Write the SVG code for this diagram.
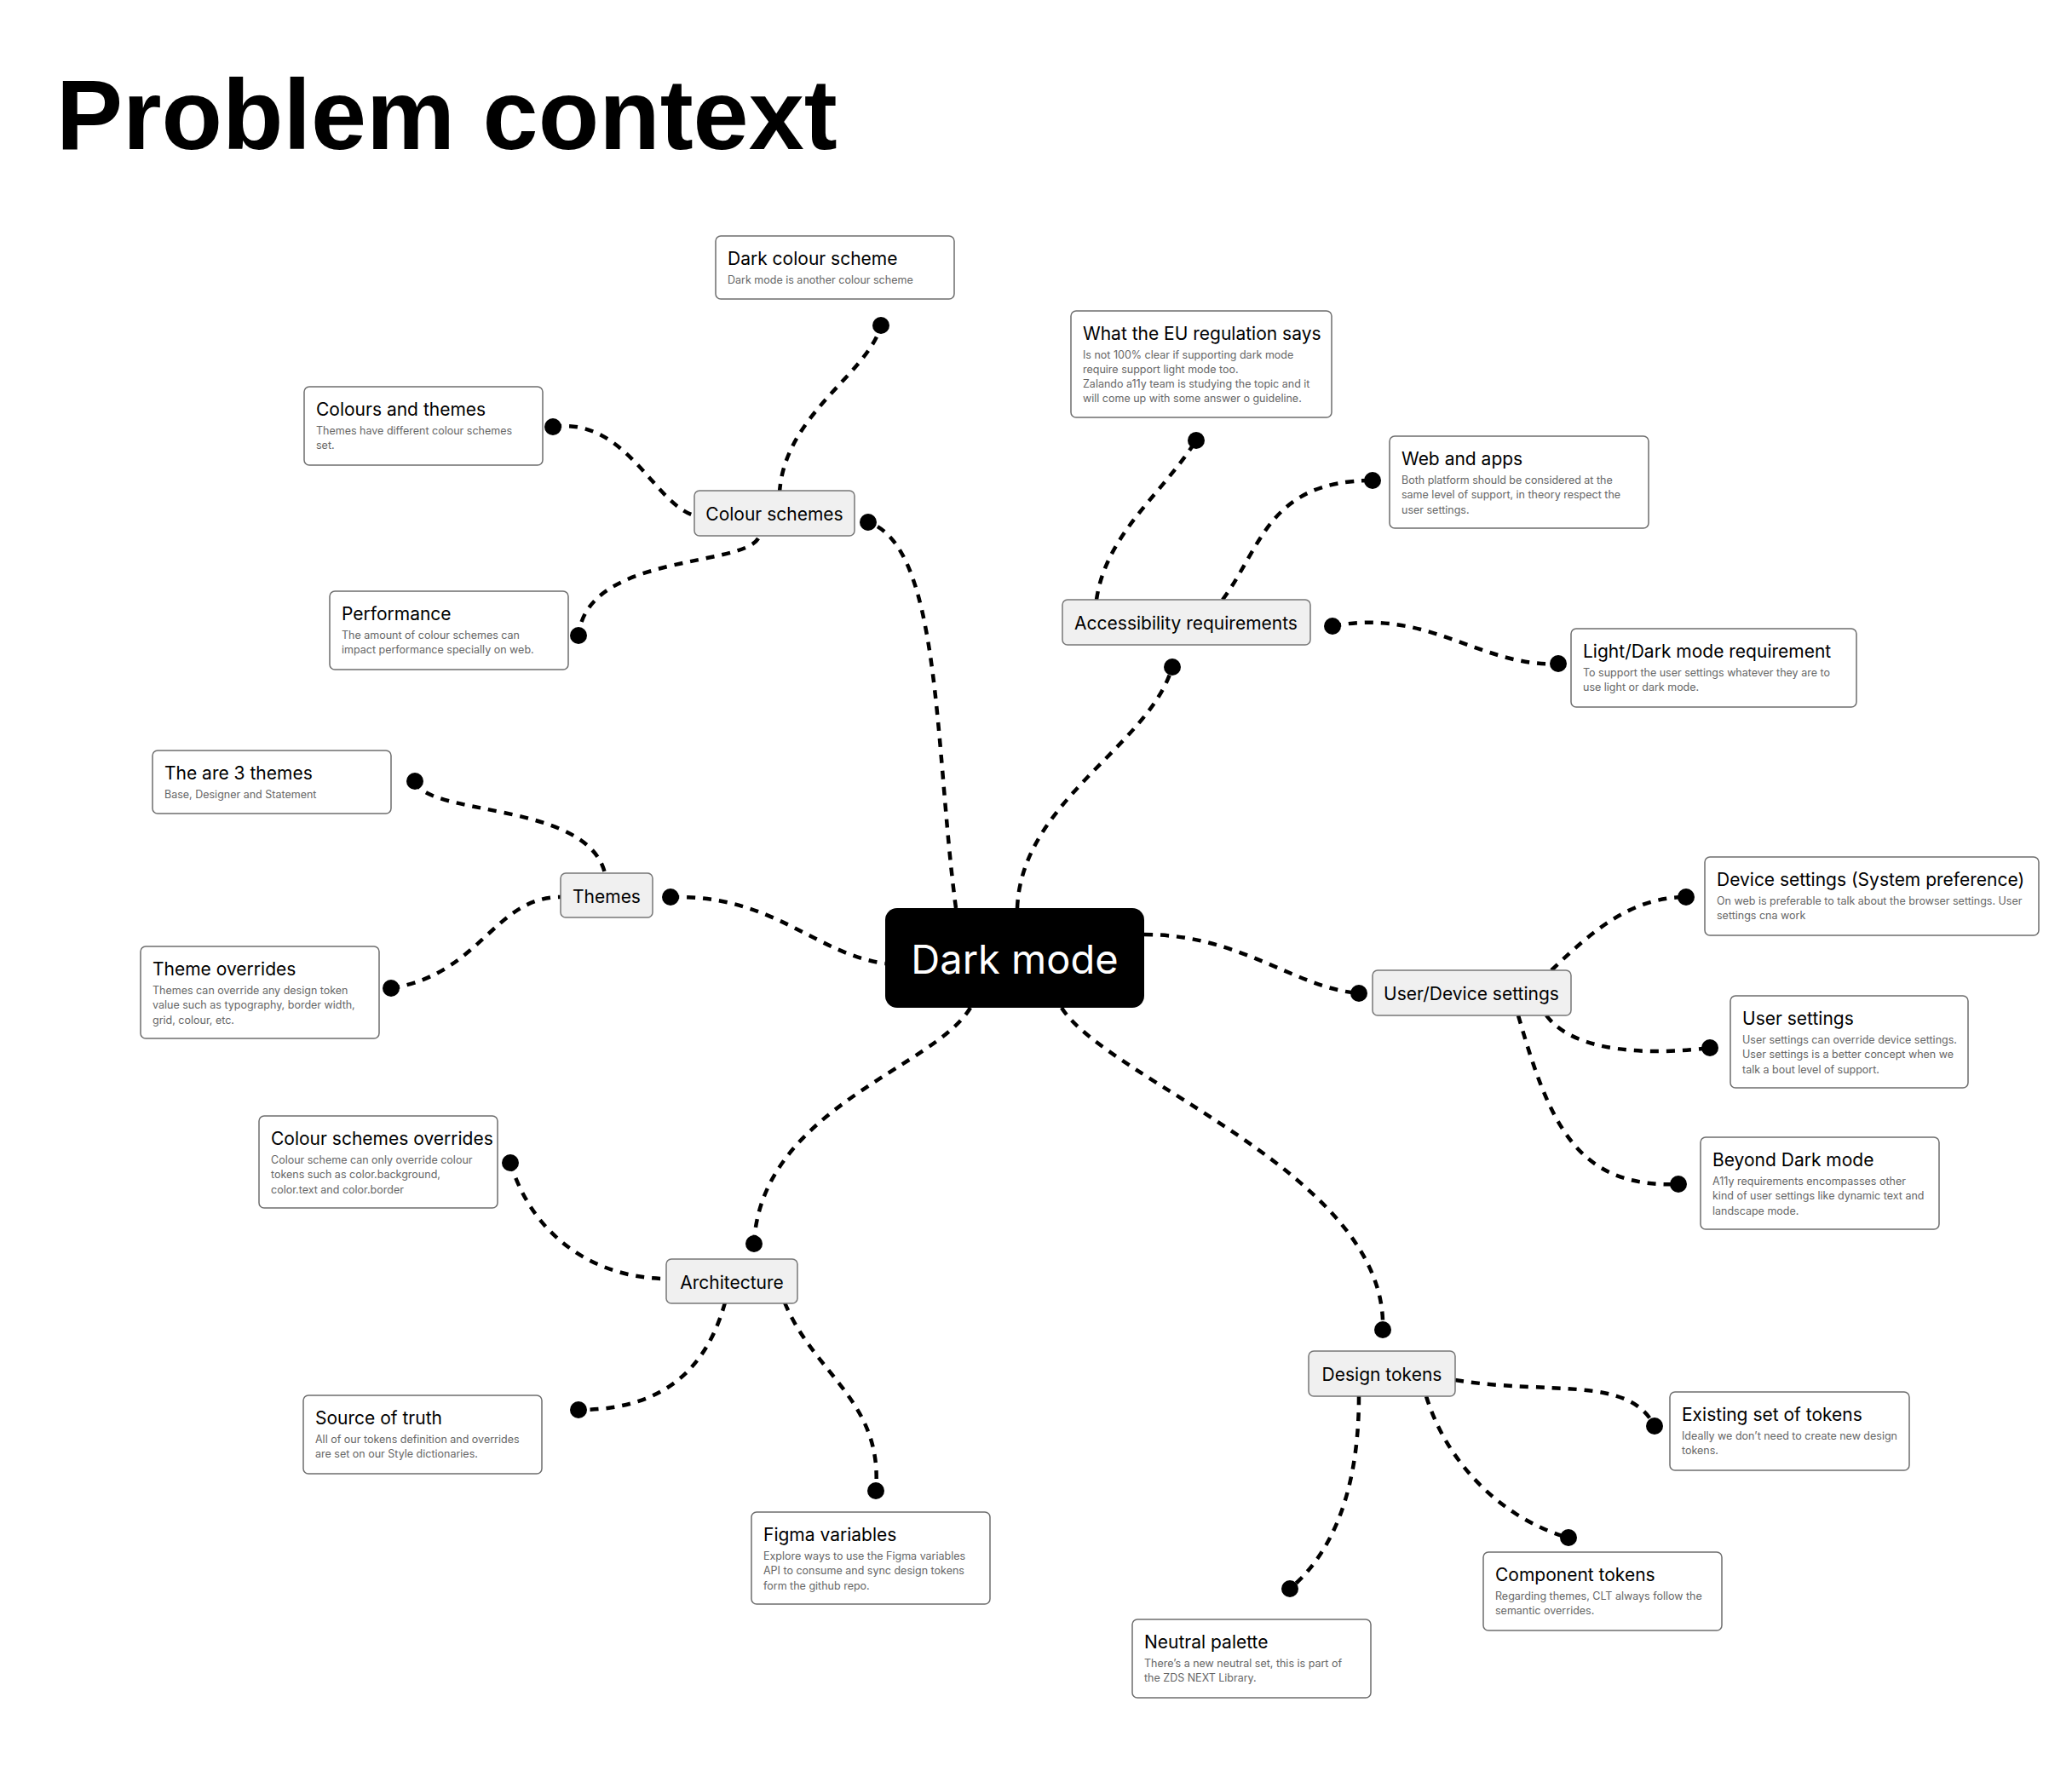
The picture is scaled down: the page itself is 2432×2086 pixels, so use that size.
<svg xmlns="http://www.w3.org/2000/svg" width="2432" height="2086" viewBox="0 0 2432 2086">
<defs>
<style>
.bg{fill:#ffffff}
.title{font-family:"Liberation Sans",Arial,sans-serif;font-weight:700;font-size:117px;fill:#000}
.card{fill:#ffffff;stroke:#6e6e6e;stroke-width:1.5}
.hub{fill:#f0f0f0;stroke:#777777;stroke-width:1.5}
.ct{font-family:Inter,"Noto Sans",sans-serif;font-size:21px;fill:#000}
.cs{font-family:Inter,"Noto Sans",sans-serif;font-size:12.5px;fill:#666666}
.ht{font-family:Inter,"Noto Sans",sans-serif;font-size:21px;fill:#000;text-anchor:middle;dominant-baseline:central}
.main{fill:#000}
.mt{font-family:Inter,"Noto Sans",sans-serif;font-size:47px;fill:#fff;text-anchor:middle;dominant-baseline:central}
.ln{fill:none;stroke:#000;stroke-width:4.5;stroke-dasharray:10 9}
.dot{fill:#000}
</style>
</defs>
<rect class="bg" x="0" y="0" width="2432" height="2086"/>
<text class="title" x="66" y="175">Problem context</text>

<g id="connectors">
<path class="ln" d="M915,578 C921,486 1019,439 1034,382"/>
<path class="ln" d="M649,501 C737,489 768,595 818,606"/>
<path class="ln" d="M890,632 C870,666 689,650 679,746"/>
<path class="ln" d="M1122,1066 C1097,878 1105,642 1019,613"/>
<path class="ln" d="M1287,704 C1298,627 1364,580 1404,517"/>
<path class="ln" d="M1435,704 C1481,642 1489,564 1611,564"/>
<path class="ln" d="M1564,735 C1677,713 1739,784 1829,779"/>
<path class="ln" d="M1194,1066 C1199,940 1348,877 1376,783"/>
<path class="ln" d="M487,917 C501,959 689,940 710,1025"/>
<path class="ln" d="M459,1160 C564,1144 580,1053 658,1053"/>
<path class="ln" d="M787,1053 C909,1050 956,1120 1039,1131"/>
<path class="ln" d="M1343,1097 C1457,1097 1520,1160 1595,1166"/>
<path class="ln" d="M1821,1139 C1865,1097 1912,1053 1979,1053"/>
<path class="ln" d="M1815,1192 C1849,1238 1943,1238 2007,1230"/>
<path class="ln" d="M1782,1192 C1818,1316 1849,1395 1970,1390"/>
<path class="ln" d="M1139,1183 C1097,1254 893,1301 885,1460"/>
<path class="ln" d="M599,1365 C627,1457 705,1501 782,1501"/>
<path class="ln" d="M851,1529 C823,1630 752,1655 679,1655"/>
<path class="ln" d="M921,1529 C956,1614 1037,1645 1028,1750"/>
<path class="ln" d="M1246,1183 C1301,1269 1630,1379 1623,1561"/>
<path class="ln" d="M1708,1620 C1818,1638 1912,1614 1942,1674"/>
<path class="ln" d="M1674,1639 C1700,1724 1771,1786 1841,1805"/>
<path class="ln" d="M1595,1639 C1595,1771 1551,1834 1514,1865"/>
<circle class="dot" cx="1034" cy="382" r="10"/>
<circle class="dot" cx="649" cy="501" r="10"/>
<circle class="dot" cx="1019" cy="613" r="10"/>
<circle class="dot" cx="679" cy="746" r="10"/>
<circle class="dot" cx="1404" cy="517" r="10"/>
<circle class="dot" cx="1611" cy="564" r="10"/>
<circle class="dot" cx="1829" cy="779" r="10"/>
<circle class="dot" cx="1564" cy="735" r="10"/>
<circle class="dot" cx="1376" cy="783" r="10"/>
<circle class="dot" cx="487" cy="917" r="10"/>
<circle class="dot" cx="459" cy="1160" r="10"/>
<circle class="dot" cx="787" cy="1053" r="10"/>
<circle class="dot" cx="1595" cy="1166" r="10"/>
<circle class="dot" cx="1979" cy="1053" r="10"/>
<circle class="dot" cx="2007" cy="1230" r="10"/>
<circle class="dot" cx="1970" cy="1390" r="10"/>
<circle class="dot" cx="885" cy="1460" r="10"/>
<circle class="dot" cx="599" cy="1365" r="10"/>
<circle class="dot" cx="679" cy="1655" r="10"/>
<circle class="dot" cx="1028" cy="1750" r="10"/>
<circle class="dot" cx="1623" cy="1561" r="10"/>
<circle class="dot" cx="1942" cy="1674" r="10"/>
<circle class="dot" cx="1841" cy="1805" r="10"/>
<circle class="dot" cx="1514" cy="1865" r="10"/>
</g>

<g id="dark-mode">
<rect class="main" x="1039" y="1066" width="304" height="117" rx="14"/>
<text class="mt" x="1191" y="1125">Dark mode</text>
</g>

<g id="hub-colour-schemes"><rect class="hub" x="815" y="576" width="188" height="53" rx="6"/><text class="ht" x="909" y="603">Colour schemes</text></g>
<g id="hub-accessibility"><rect class="hub" x="1247" y="704" width="291" height="53" rx="6"/><text class="ht" x="1392" y="731">Accessibility requirements</text></g>
<g id="hub-themes"><rect class="hub" x="658" y="1025" width="108" height="52" rx="6"/><text class="ht" x="712" y="1052">Themes</text></g>
<g id="hub-user-device"><rect class="hub" x="1611" y="1139" width="233" height="53" rx="6"/><text class="ht" x="1727" y="1166">User/Device settings</text></g>
<g id="hub-architecture"><rect class="hub" x="782" y="1478" width="154" height="52" rx="6"/><text class="ht" x="859" y="1505">Architecture</text></g>
<g id="hub-design-tokens"><rect class="hub" x="1536" y="1586" width="172" height="53" rx="6"/><text class="ht" x="1622" y="1613">Design tokens</text></g>

<g id="card-dark-colour-scheme"><rect class="card" x="840" y="277" width="280" height="74" rx="6"/><text class="ct" x="854" y="311">Dark colour scheme</text><text class="cs" x="854" y="333">Dark mode is another colour scheme</text></g>
<g id="card-colours-themes"><rect class="card" x="357" y="454" width="280" height="92" rx="6"/><text class="ct" x="371" y="488">Colours and themes</text><text class="cs" x="371" y="510">Themes have different colour schemes</text><text class="cs" x="371" y="527">set.</text></g>
<g id="card-performance"><rect class="card" x="387" y="694" width="280" height="92" rx="6"/><text class="ct" x="401" y="728">Performance</text><text class="cs" x="401" y="750">The amount of colour schemes can</text><text class="cs" x="401" y="767">impact performance specially on web.</text></g>
<g id="card-eu"><rect class="card" x="1257" y="365" width="306" height="125" rx="6"/><text class="ct" x="1271" y="399">What the EU regulation says</text><text class="cs" x="1271" y="421">Is not 100% clear if supporting dark mode</text><text class="cs" x="1271" y="438">require support light mode too.</text><text class="cs" x="1271" y="455">Zalando a11y team is studying the topic and it</text><text class="cs" x="1271" y="472">will come up with some answer o guideline.</text></g>
<g id="card-web-apps"><rect class="card" x="1631" y="512" width="304" height="108" rx="6"/><text class="ct" x="1645" y="546">Web and apps</text><text class="cs" x="1645" y="568">Both platform should be considered at the</text><text class="cs" x="1645" y="585">same level of support, in theory respect the</text><text class="cs" x="1645" y="603">user settings.</text></g>
<g id="card-light-dark"><rect class="card" x="1844" y="738" width="335" height="92" rx="6"/><text class="ct" x="1858" y="772">Light/Dark mode requirement</text><text class="cs" x="1858" y="794">To support the user settings whatever they are to</text><text class="cs" x="1858" y="811">use light or dark mode.</text></g>
<g id="card-3-themes"><rect class="card" x="179" y="881" width="280" height="74" rx="6"/><text class="ct" x="193" y="915">The are 3 themes</text><text class="cs" x="193" y="937">Base, Designer and Statement</text></g>
<g id="card-theme-overrides"><rect class="card" x="165" y="1111" width="280" height="108" rx="6"/><text class="ct" x="179" y="1145">Theme overrides</text><text class="cs" x="179" y="1167">Themes can override any design token</text><text class="cs" x="179" y="1184">value such as typography, border width,</text><text class="cs" x="179" y="1202">grid, colour, etc.</text></g>
<g id="card-device-settings"><rect class="card" x="2001" y="1006" width="392" height="92" rx="6"/><text class="ct" x="2015" y="1040">Device settings (System preference)</text><text class="cs" x="2015" y="1062">On web is preferable to talk about the browser settings. User</text><text class="cs" x="2015" y="1079">settings cna work</text></g>
<g id="card-user-settings"><rect class="card" x="2031" y="1169" width="279" height="108" rx="6"/><text class="ct" x="2045" y="1203">User settings</text><text class="cs" x="2045" y="1225">User settings can override device settings.</text><text class="cs" x="2045" y="1242">User settings is a better concept when we</text><text class="cs" x="2045" y="1260">talk a bout level of support.</text></g>
<g id="card-beyond"><rect class="card" x="1996" y="1335" width="280" height="108" rx="6"/><text class="ct" x="2010" y="1369">Beyond Dark mode</text><text class="cs" x="2010" y="1391">A11y requirements encompasses other</text><text class="cs" x="2010" y="1408">kind of user settings like dynamic text and</text><text class="cs" x="2010" y="1426">landscape mode.</text></g>
<g id="card-colour-overrides"><rect class="card" x="304" y="1310" width="280" height="108" rx="6"/><text class="ct" x="318" y="1344">Colour schemes overrides</text><text class="cs" x="318" y="1366">Colour scheme can only override colour</text><text class="cs" x="318" y="1383">tokens such as color.background,</text><text class="cs" x="318" y="1401">color.text and color.border</text></g>
<g id="card-source"><rect class="card" x="356" y="1638" width="280" height="92" rx="6"/><text class="ct" x="370" y="1672">Source of truth</text><text class="cs" x="370" y="1694">All of our tokens definition and overrides</text><text class="cs" x="370" y="1711">are set on our Style dictionaries.</text></g>
<g id="card-figma"><rect class="card" x="882" y="1775" width="280" height="108" rx="6"/><text class="ct" x="896" y="1809">Figma variables</text><text class="cs" x="896" y="1831">Explore ways to use the Figma variables</text><text class="cs" x="896" y="1848">API to consume and sync design tokens</text><text class="cs" x="896" y="1866">form the github repo.</text></g>
<g id="card-existing"><rect class="card" x="1960" y="1634" width="281" height="92" rx="6"/><text class="ct" x="1974" y="1668">Existing set of tokens</text><text class="cs" x="1974" y="1690">Ideally we don’t need to create new design</text><text class="cs" x="1974" y="1707">tokens.</text></g>
<g id="card-component"><rect class="card" x="1741" y="1822" width="280" height="92" rx="6"/><text class="ct" x="1755" y="1856">Component tokens</text><text class="cs" x="1755" y="1878">Regarding themes, CLT always follow the</text><text class="cs" x="1755" y="1895">semantic overrides.</text></g>
<g id="card-neutral"><rect class="card" x="1329" y="1901" width="280" height="92" rx="6"/><text class="ct" x="1343" y="1935">Neutral palette</text><text class="cs" x="1343" y="1957">There’s a new neutral set, this is part of</text><text class="cs" x="1343" y="1974">the ZDS NEXT Library.</text></g>
</svg>
